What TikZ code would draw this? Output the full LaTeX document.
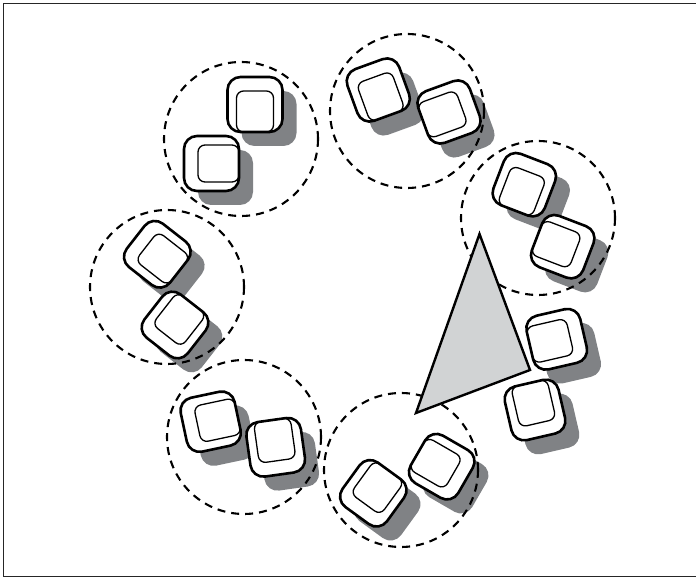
\documentclass[tikz,border=0pt]{standalone}
\usepackage{xcolor}
\usepackage{tikz}
\usetikzlibrary{calc}

\definecolor{shadowgray}{RGB}{128,130,133}
\definecolor{tablegray}{RGB}{209,211,212}

\begin{document}
\begin{tikzpicture}[
    x=1pt, y=1pt,
    frame/.style={draw=black!85, line width=1.3pt},
    ring/.style={draw, dash pattern=on 8pt off 6pt, line width=2.1pt},
    chairshadow/.style={fill=shadowgray, rounded corners=13pt},
    chairback/.style={draw, fill=white, line width=2.6pt, rounded corners=13pt},
    chairseat/.style={draw, line width=1.3pt, rounded corners=7pt},
    tabletop/.style={draw, fill=tablegray, line width=2.4pt, line join=miter},
    chair/.pic={
        \path[chairback] (-27.5,-27.5) rectangle (27.5,27.5);
        \path[chairseat] (-13.5,-18.5) rectangle (27.5,18.5);
    }
]
\useasboundingbox (0,0) rectangle (696,578);
\draw[frame] (700,1.5) -- (3.5,1.5) -- (3.5,574.5) -- (700,574.5);

\def\chairs{255/473.5/-90, 211.5/414.5/0, 378.3/488/-70, 449/466/-160,
    524.3/393.3/-111, 562.7/331.3/159, 157.3/323.7/-38, 175/253/52,
    210.7/156.3/12, 275.7/130.7/98, 373.3/84.7/54, 441.7/111.3/150,
    556.7/238.7/193, 535/168/103}

% shadows first
\foreach \x/\y/\r in \chairs
    \path[chairshadow, shift={(\x+14,\y-14)}, rotate=\r] (-27.5,-27.5) rectangle (27.5,27.5);

% dashed rings
\foreach \cx/\cy [count=\i] in {241/439, 407/467, 538/360, 167/291, 244/141, 401/108}
    \path[ring] (\cx,\cy) circle (77) coordinate (ring\i);

% chairs
\foreach \x/\y/\r in \chairs
    \pic[rotate=\r] at (\x,\y) {chair};

% table
\coordinate (ttop) at (479.5,344);
\coordinate (tright) at (530,208);
\coordinate (tleft) at (416,165);
\path[tabletop] (ttop) -- (tright) -- (tleft) -- cycle;
\end{tikzpicture}
\end{document}
